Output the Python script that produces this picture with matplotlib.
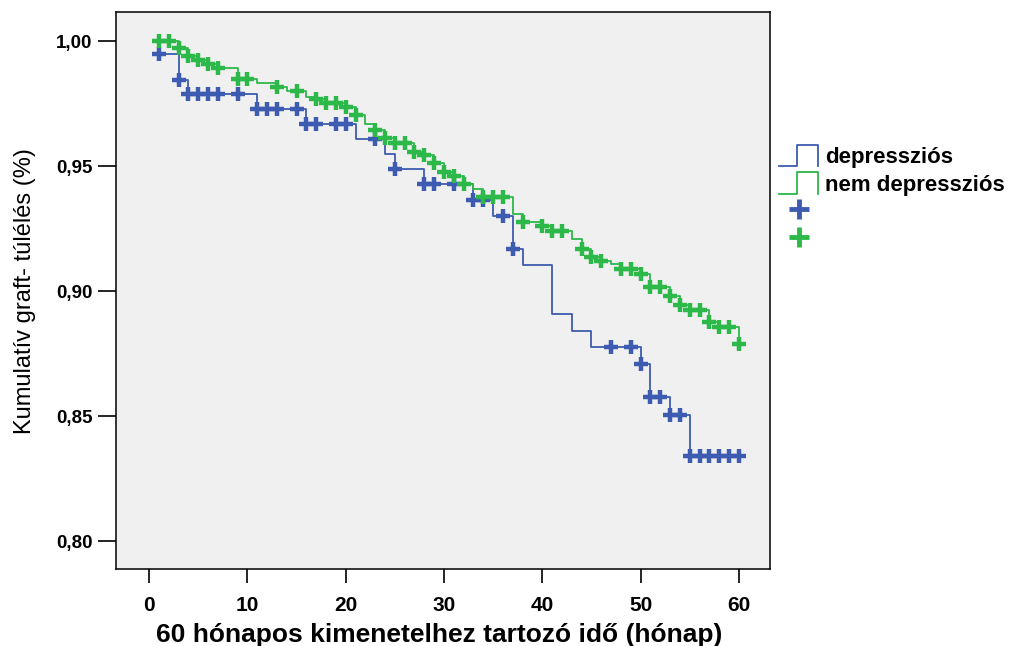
import numpy as np
import matplotlib
matplotlib.use('Agg')
import matplotlib.pyplot as plt
from matplotlib.lines import Line2D
from matplotlib.legend_handler import HandlerBase
from matplotlib.ticker import FuncFormatter

# Kaplan-Meier becslés: lépések ideje (hónap) és túlélés
dep_times = [1, 3, 4, 11, 16, 21, 24, 25, 28, 33, 35, 37, 38, 41, 43, 45, 50, 51, 53, 55]
dep_surv = [0.9948, 0.9844, 0.9790, 0.9730, 0.9670, 0.9610, 0.9550, 0.9490, 0.9430, 0.9364,
            0.9300, 0.9170, 0.9104, 0.8910, 0.8840, 0.8776, 0.8710, 0.8576, 0.8504, 0.8340]
dep_censored = [1, 3, 4, 5, 6, 7, 9, 11, 12, 13, 15, 16, 17, 19, 20, 23, 25, 28, 29, 31, 33,
                34, 36, 37, 47, 49, 50, 51, 52, 53, 54, 55, 56, 57, 58, 59, 60]

nondep_times = [1, 3, 4, 5, 6, 7, 9, 11, 13, 14, 16, 17, 18, 20, 21, 22, 23, 24, 25, 27, 28,
                29, 30, 31, 32, 33, 34, 37, 38, 40, 41, 43, 44, 45, 46, 47, 48, 50, 51, 53,
                54, 55, 57, 58, 60]
nondep_surv = [1.0000, 0.9972, 0.9940, 0.9924, 0.9908, 0.9892, 0.9848, 0.9832, 0.9816, 0.9800,
               0.9776, 0.9768, 0.9752, 0.9736, 0.9704, 0.9668, 0.9644, 0.9612, 0.9592, 0.9556,
               0.9544, 0.9512, 0.9476, 0.9460, 0.9428, 0.9408, 0.9376, 0.9308, 0.9276, 0.9260,
               0.9240, 0.9208, 0.9170, 0.9136, 0.9120, 0.9108, 0.9088, 0.9068, 0.9016, 0.8980,
               0.8944, 0.8924, 0.8876, 0.8856, 0.8788]
nondep_censored = [1, 2, 3, 4, 5, 6, 7, 9, 10, 13, 15, 17, 18, 19, 20, 21, 23, 24, 25, 26, 27,
                   28, 29, 30, 31, 32, 34, 35, 36, 38, 40, 41, 42, 44, 45, 46, 48, 49, 50, 51,
                   52, 53, 54, 55, 56, 57, 58, 59, 60]

follow_up = 60
labels = ['depressziós', 'nem depressziós']
blue = '#3d5bb0'
green = '#2db84a'

plt.rcParams['font.family'] = ['Liberation Sans', 'DejaVu Sans']

fig = plt.figure(figsize=(10.09, 6.46), dpi=100)
ax = fig.add_axes([0.115, 0.119, 0.648, 0.862])
ax.set_facecolor('#f0f0f0')


def km_line(times, surv, censored, color):
    t = np.append(times, follow_up)
    s = np.append(surv, surv[-1])
    ax.step(t, s, where='post', color=color, lw=1.3)
    idx = np.searchsorted(times, censored, side='right') - 1
    ax.plot(censored, np.array(surv)[idx], ls='', marker='+', color=color,
            ms=10, mew=3.2)


km_line(dep_times, dep_surv, dep_censored, blue)
km_line(nondep_times, nondep_surv, nondep_censored, green)

ax.set_xlim(-3.36, 63.15)
ax.set_ylim(0.7888, 1.0116)
ax.set_xticks(range(0, 61, 10))
ax.set_yticks([0.80, 0.85, 0.90, 0.95, 1.00])
ax.yaxis.set_major_formatter(FuncFormatter(lambda v, p: f'{v:.2f}'.replace('.', ',')))
ax.tick_params(axis='y', length=13, width=1.2, labelsize=13.5, pad=4)
ax.tick_params(axis='x', length=10, width=1.2, labelsize=15, pad=9)
for lab in ax.get_xticklabels() + ax.get_yticklabels():
    lab.set_fontweight('bold')
for sp in ax.spines.values():
    sp.set_linewidth(1.1)

ax.set_xlabel('60 hónapos kimenetelhez tartozó idő (hónap)', fontsize=19,
              fontweight='bold')
ax.xaxis.set_label_coords(0.495, -0.097)
ax.set_ylabel('Kumulatív graft- túlélés (%)', fontsize=17, labelpad=14)


class StepHandler(HandlerBase):
    def create_artists(self, legend, orig_handle, xdescent, ydescent, width, height,
                       fontsize, trans):
        x0, y0 = -xdescent, -ydescent
        xs = [x0, x0 + 0.45 * width, x0 + 0.45 * width, x0 + width, x0 + width]
        ys = [y0, y0, y0 + height, y0 + height, y0]
        ln = Line2D(xs, ys, color=orig_handle.get_color(), lw=1.3, transform=trans)
        return [ln]


h_dep = Line2D([], [], color=blue)
h_non = Line2D([], [], color=green)
m_dep = Line2D([], [], ls='', marker='+', color=blue, ms=14, mew=3.5)
m_non = Line2D([], [], ls='', marker='+', color=green, ms=14, mew=3.5)
leg = fig.legend([h_dep, h_non, m_dep, m_non], labels + ['', ''],
                 handler_map={h_dep: StepHandler(), h_non: StepHandler()},
                 loc='upper left', bbox_to_anchor=(0.757, 0.80), frameon=False,
                 prop={'weight': 'bold', 'size': 16}, handlelength=1.75,
                 handleheight=1.1, handletextpad=0.3, labelspacing=0.2,
                 borderpad=0.2)

fig.savefig('out.png', dpi=100)
